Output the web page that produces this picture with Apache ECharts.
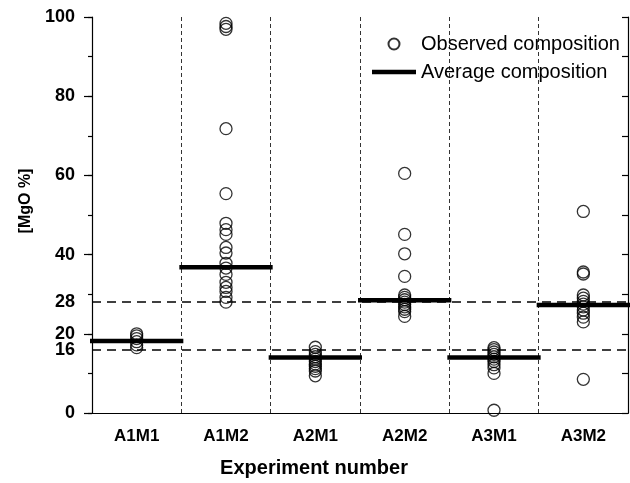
<!DOCTYPE html>
<html>
<head>
<meta charset="utf-8">
<script src="https://cdn.jsdelivr.net/npm/echarts@6/dist/echarts.min.js"></script>
<style>html,body{margin:0;padding:0;background:#fff}#c{width:630px;height:483px}</style>
</head>
<body>
<div id="c"></div>
<script>
var categories = ['A1M1', 'A1M2', 'A2M1', 'A2M2', 'A3M1', 'A3M2'];
var obsA1M1 = [20, 19.5, 18.8, 18, 17.2, 16.5];
var obsA1M2 = [98.4, 97.6, 96.9, 71.8, 55.4, 47.9, 46.3, 45.1, 41.8, 40.4, 37.8, 36.6, 35, 33, 31.7, 30.7, 29.2, 28];
var obsA2M1 = [16.6, 15.5, 14.8, 14.2, 13.6, 13, 12.4, 11.8, 11.2, 10.6, 9.4];
var obsA2M2 = [60.5, 45.1, 40.2, 34.5, 29.8, 29.2, 28.6, 28, 27.4, 26.8, 26.2, 25.6, 24.4];
var obsA3M1 = [16.5, 16, 15.4, 14.8, 14.2, 13.6, 13, 12.2, 11.4, 10, 0.7];
var obsA3M2 = [50.9, 35.6, 35.1, 29.8, 29, 28.2, 27.5, 26.8, 26, 25.2, 24.2, 23, 8.5];
var averages = [18.2, 36.8, 14.0, 28.5, 14.0, 27.3];
var refLines = [16, 28];
var yTickLabels = [0, 20, 40, 60, 80, 100];

var FONT = "'Liberation Sans', Arial, sans-serif";
var observed = [obsA1M1, obsA1M2, obsA2M1, obsA2M2, obsA3M1, obsA3M2];
var scatterData = [];
observed.forEach(function (arr, i) { arr.forEach(function (v) { scatterData.push([i, v]); }); });
var avgData = averages.map(function (v, i) { return [i, v]; });

var chart = echarts.init(document.getElementById('c'), null, {renderer: 'canvas'});
var black = '#000';
chart.setOption({
  animation: false,
  backgroundColor: '#fff',
  grid: {left: 92, right: 2, top: 17, bottom: 70},
  legend: {
    orient: 'vertical', left: 367, top: 29, itemWidth: 44, itemHeight: 11, itemGap: 8,
    textStyle: {fontFamily: FONT, fontSize: 20, color: black},
    data: [
      {name: 'Observed composition', icon: 'circle'},
      {name: 'Average composition', icon: 'path://M0,0 H44 V4.5 H0 Z'}
    ]
  },
  xAxis: [
    {type: 'category', data: categories, position: 'bottom', boundaryGap: true,
     axisLine: {lineStyle: {color: black, width: 1.2}},
     axisTick: {alignWithLabel: false, length: 5, lineStyle: {color: black, width: 1.2}},
     axisLabel: {color: black, fontFamily: FONT, fontWeight: 'bold', fontSize: 17, margin: 15},
     splitLine: {show: true, lineStyle: {color: '#333', width: 1, type: [4, 3]}},
     name: 'Experiment number', nameLocation: 'middle', nameGap: 45,
     nameTextStyle: {color: black, fontFamily: FONT, fontWeight: 'bold', fontSize: 20, padding: [0, 92, 0, 0]}},
    {type: 'category', data: categories, position: 'bottom', boundaryGap: true,
     axisLine: {show: false}, axisLabel: {show: false}, splitLine: {show: false},
     axisTick: {alignWithLabel: true, length: 9, lineStyle: {color: black, width: 1.2}}},
    {type: 'category', data: categories, position: 'top', boundaryGap: true,
     axisLine: {lineStyle: {color: black, width: 1.2}}, axisLabel: {show: false}, splitLine: {show: false},
     axisTick: {inside: true, alignWithLabel: false, length: 6, lineStyle: {color: black, width: 1.2}}},
    {type: 'category', data: categories, position: 'top', boundaryGap: true,
     axisLine: {show: false}, axisLabel: {show: false}, splitLine: {show: false},
     axisTick: {inside: true, alignWithLabel: true, length: 6, lineStyle: {color: black, width: 1.2}}}
  ],
  yAxis: [
    {type: 'value', min: 0, max: 100, interval: 20, position: 'left',
     axisLine: {show: true, lineStyle: {color: black, width: 1.2}},
     axisTick: {show: true, length: 8, lineStyle: {color: black, width: 1.2}},
     axisLabel: {color: black, fontFamily: FONT, fontWeight: 'bold', fontSize: 18, margin: 17,
       formatter: function (v) { return yTickLabels.indexOf(v) >= 0 ? String(v) : ''; }},
     splitLine: {show: false},
     name: '[MgO %]', nameLocation: 'middle', nameGap: 58,
     nameTextStyle: {color: black, fontFamily: FONT, fontWeight: 'bold', fontSize: 16, padding: [0, 0, 0, 28]}},
    {type: 'value', min: 0, max: 100, interval: 10, position: 'left',
     axisLine: {show: false}, axisLabel: {show: false}, splitLine: {show: false},
     axisTick: {show: true, length: 4, lineStyle: {color: black, width: 1.2}}},
    {type: 'value', min: 0, max: 100, interval: 10, position: 'right',
     axisLine: {show: true, lineStyle: {color: black, width: 1.2}}, axisLabel: {show: false}, splitLine: {show: false},
     axisTick: {show: true, inside: true, length: 6, lineStyle: {color: black, width: 1.2}}}
  ],
  series: [
    {name: 'Observed composition', type: 'scatter', xAxisIndex: 0, yAxisIndex: 0,
     data: scatterData, symbol: 'circle', symbolSize: 12, z: 3,
     itemStyle: {color: 'rgba(0,0,0,0)', borderColor: black, borderWidth: 1.3},
     markLine: {
       silent: true, symbol: 'none',
       lineStyle: {color: black, width: 1.5, type: [9, 6]},
       label: {show: true, position: 'start', distance: 17, color: black,
               fontFamily: FONT, fontWeight: 'bold', fontSize: 18,
               formatter: function (p) { return String(p.value); }},
       data: refLines.map(function (v) { return {yAxis: v}; })
     }},
    {name: 'Average composition', type: 'custom', xAxisIndex: 0, yAxisIndex: 0,
     data: avgData, z: 4,
     itemStyle: {color: black},
     encode: {x: 0, y: 1},
     renderItem: function (params, api) {
       var p = api.coord([api.value(0), api.value(1)]);
       var w = api.size([1, 0])[0];
       return {type: 'line',
         shape: {x1: p[0] - w / 2 - 2, y1: p[1], x2: p[0] + w / 2 + 2, y2: p[1]},
         style: {stroke: black, lineWidth: 4.5}};
     }}
  ]
});
</script>
</body>
</html>
